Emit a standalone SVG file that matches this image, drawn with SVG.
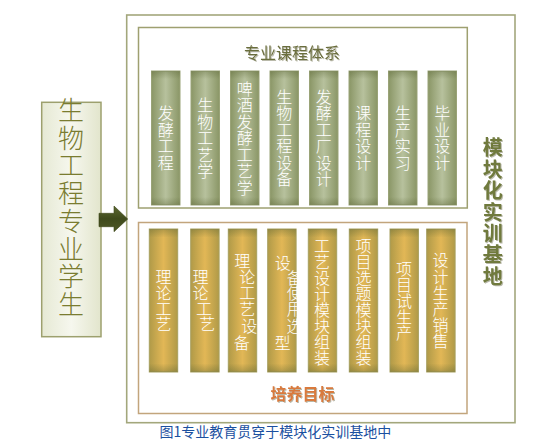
<svg xmlns="http://www.w3.org/2000/svg" width="549" height="445" viewBox="0 0 549 445">
<defs>
<linearGradient id="gTop" x1="0" y1="0" x2="1" y2="0">
<stop offset="0" stop-color="#8a9666"/><stop offset="0.5" stop-color="#b7c19d"/><stop offset="1" stop-color="#8a9666"/>
</linearGradient>
<linearGradient id="gBot" x1="0" y1="0" x2="1" y2="0">
<stop offset="0" stop-color="#b09a48"/><stop offset="0.5" stop-color="#e2b756"/><stop offset="1" stop-color="#b09a48"/>
</linearGradient>
<linearGradient id="gV" x1="0" y1="0" x2="0" y2="1">
<stop offset="0" stop-color="#556030" stop-opacity="0.35"/><stop offset="0.06" stop-color="#556030" stop-opacity="0"/>
<stop offset="0.94" stop-color="#556030" stop-opacity="0"/><stop offset="1" stop-color="#556030" stop-opacity="0.35"/>
</linearGradient>
<linearGradient id="gLeft" x1="0" y1="0" x2="1" y2="0">
<stop offset="0" stop-color="#e6e9d4"/><stop offset="0.5" stop-color="#f6f7ee"/><stop offset="1" stop-color="#e2e5cc"/>
</linearGradient>
<linearGradient id="gArrow" x1="0" y1="0" x2="0" y2="1">
<stop offset="0" stop-color="#5c6830"/><stop offset="0.5" stop-color="#3f4a1c"/><stop offset="1" stop-color="#4e5826"/>
</linearGradient>
<filter id="sh" x="-10%" y="-10%" width="130%" height="130%">
<feDropShadow dx="1" dy="1" stdDeviation="0.6" flood-color="#8a8a70" flood-opacity="0.6"/>
</filter>
<style>
.cj{font-family:"Noto Sans CJK SC","Noto Sans",sans-serif;}
.bt{font-size:16px;fill:#ffffff;text-anchor:middle;font-weight:300;}
.tb{fill:url(#gTop);stroke:#9aa378;stroke-width:1;}
.bb{fill:url(#gBot);stroke:#a8a060;stroke-width:1;}
.ov{fill:url(#gV);}
</style>
</defs>

<g id="outer-box">
<rect x="126.7" y="15" width="388.3" height="407.7" fill="#ffffff" stroke="#a3a77c" stroke-width="1.6"/>
<text class="cj" font-size="20" font-weight="bold" fill="#6f7a3c" text-anchor="middle" filter="url(#sh)" x="492.7 492.7 492.7 492.7 492.7 492.7 492.7" y="155.3 176.7 198.1 219.5 240.9 262.3 283.7">模块化实训基地</text>
</g>

<g id="course-system">
<rect x="138.5" y="27.5" width="328.8" height="180.5" fill="#ffffff" stroke="#9ea070" stroke-width="1.5"/>
<text class="cj" font-size="16" fill="#6b6e3c" text-anchor="middle" filter="url(#sh)" x="292" y="58.6">专业课程体系</text>
</g>

<g id="course-bars">
<g id="c1"><rect class="tb" x="151.5" y="71" width="28.5" height="134"/><rect class="ov" x="151.5" y="71" width="28.5" height="134"/>
<text class="cj bt" x="165.8 165.8 165.8 165.8" y="119.4 135.9 152.4 168.9">发酵工程</text></g>
<g id="c2"><rect class="tb" x="191" y="71" width="28.5" height="134"/><rect class="ov" x="191" y="71" width="28.5" height="134"/>
<text class="cj bt" x="205.2 205.2 205.2 205.2 205.2" y="111.1 127.6 144.1 160.6 177.1">生物工艺学</text></g>
<g id="c3"><rect class="tb" x="230.5" y="71" width="28.5" height="134"/><rect class="ov" x="230.5" y="71" width="28.5" height="134"/>
<text class="cj bt" x="244.7 244.7 244.7 244.7 244.7 244.7 244.7" y="94.6 111.1 127.6 144.1 160.6 177.1 193.6">啤酒发酵工艺学</text></g>
<g id="c4"><rect class="tb" x="270" y="71" width="28.5" height="134"/><rect class="ov" x="270" y="71" width="28.5" height="134"/>
<text class="cj bt" x="284.2 284.2 284.2 284.2 284.2 284.2" y="102.9 119.4 135.9 152.4 168.9 185.4">生物工程设备</text></g>
<g id="c5"><rect class="tb" x="309.5" y="71" width="28.5" height="134"/><rect class="ov" x="309.5" y="71" width="28.5" height="134"/>
<text class="cj bt" x="323.7 323.7 323.7 323.7 323.7 323.7" y="102.9 119.4 135.9 152.4 168.9 185.4">发酵工厂设计</text></g>
<g id="c6"><rect class="tb" x="349" y="71" width="28.5" height="134"/><rect class="ov" x="349" y="71" width="28.5" height="134"/>
<text class="cj bt" x="363.2 363.2 363.2 363.2" y="119.4 135.9 152.4 168.9">课程设计</text></g>
<g id="c7"><rect class="tb" x="388.5" y="71" width="28.5" height="134"/><rect class="ov" x="388.5" y="71" width="28.5" height="134"/>
<text class="cj bt" x="402.7 402.7 402.7 402.7" y="119.4 135.9 152.4 168.9">生产实习</text></g>
<g id="c8"><rect class="tb" x="428" y="71" width="28.5" height="134"/><rect class="ov" x="428" y="71" width="28.5" height="134"/>
<text class="cj bt" x="442.2 442.2 442.2 442.2" y="119.4 135.9 152.4 168.9">毕业设计</text></g>
</g>

<g id="training-goal">
<rect x="138.5" y="222.5" width="328.5" height="191" fill="#ffffff" stroke="#c2a57c" stroke-width="1.5"/>
<text class="cj" font-size="16" font-weight="bold" fill="#d97a3c" text-anchor="middle" filter="url(#sh)" x="302.5" y="400.3">培养目标</text>
</g>

<g id="goal-bars">
<g id="g1"><rect class="bb" x="149.3" y="229" width="28.4" height="143"/><rect class="ov" x="149.3" y="229" width="28.4" height="143"/>
<text class="cj bt" x="163.4 163.4 163.4 163.4" y="282.9 298.7 314.5 330.3">理论工艺</text></g>
<g id="g2"><rect class="bb" x="190.7" y="229" width="28.4" height="143"/><rect class="ov" x="190.7" y="229" width="28.4" height="143"/>
<text class="cj bt" x="200.6 200.6 204 207.3" y="282.9 298.7 314.5 330.3">理论工艺</text></g>
<g id="g3"><rect class="bb" x="228.3" y="229" width="28.4" height="143"/><rect class="ov" x="228.3" y="229" width="28.4" height="143"/>
<text class="cj bt" x="242.3 247.3 247.3 247.3 249.3 241.7" y="266.9 282.9 298.6 315.3 331.9 348.6">理论工艺设备</text></g>
<g id="g4"><rect class="bb" x="267.7" y="229" width="28.4" height="143"/><rect class="ov" x="267.7" y="229" width="28.4" height="143"/>
<text class="cj bt" x="282.7 294.7 294.7 294.7 294.5 282.4" y="268.6 283.6 299.1 315.3 331.9 348.6">设备使用选型</text></g>
<g id="g5"><rect class="bb" x="308.3" y="229" width="28.4" height="143"/><rect class="ov" x="308.3" y="229" width="28.4" height="143"/>
<text class="cj bt" x="322 322 322 322 322 322 322 322" y="251.6 267.7 283.8 299.9 316 332.1 348.2 364.3">工艺设计模块组装</text></g>
<g id="g6"><rect class="bb" x="349.3" y="229" width="28.4" height="143"/><rect class="ov" x="349.3" y="229" width="28.4" height="143"/>
<text class="cj bt" x="363.4 363.4 363.4 363.4 363.4 363.4 363.4 363.4" y="251.6 267.7 283.8 299.9 316 332.1 348.2 364.3">项目选题模块组装</text></g>
<g id="g7"><rect class="bb" x="390" y="229" width="28.4" height="143"/><rect class="ov" x="390" y="229" width="28.4" height="143"/>
<text class="cj bt" x="404.1 404.1 404.1 404.1 404.1" y="275.3 291.3 307.3 323.3 339.3">项目试生产</text></g>
<g id="g8"><rect class="bb" x="426.7" y="229" width="28.4" height="143"/><rect class="ov" x="426.7" y="229" width="28.4" height="143"/>
<text class="cj bt" x="440.5 440.5 440.5 440.5 440.5 440.5" y="266.3 282.5 298.7 314.9 331.1 347.3">设计生产销售</text></g>
</g>

<g id="student">
<rect x="41.7" y="102.3" width="59.3" height="234.4" fill="url(#gLeft)" stroke="#9da06e" stroke-width="1.5"/>
<text class="cj" font-size="26" font-weight="300" fill="#7a7c30" text-anchor="middle" x="71 71 71 71 71 71 71 71" y="120 147.7 175.4 203.1 230.8 258.5 286.2 313.9">生物工程专业学生</text>
</g>

<g id="connectors">
<polygon points="99,213.3 114,213.3 114,206 127.7,219 114,231.7 114,226.7 99,226.7" fill="url(#gArrow)" stroke="#3a4418" stroke-width="0.6"/>
</g>

<text class="cj" font-size="14" fill="#1b50a0" text-anchor="middle" x="275.3" y="437">图1专业教育贯穿于模块化实训基地中</text>
</svg>
